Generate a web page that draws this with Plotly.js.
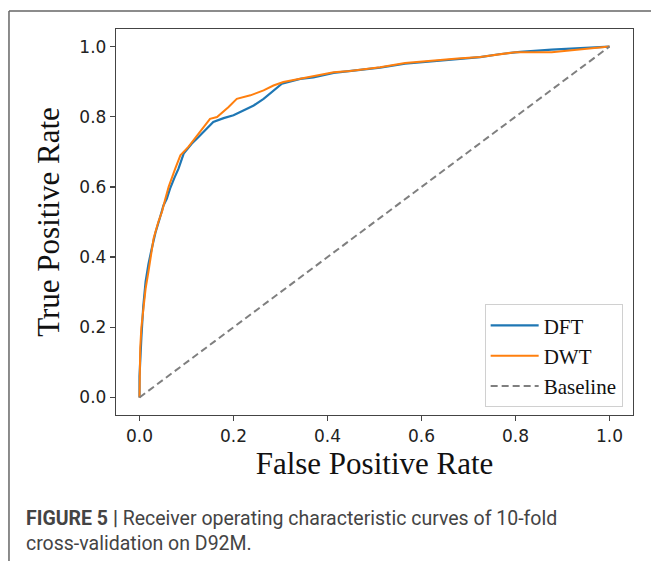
<!DOCTYPE html>
<html>
<head>
<meta charset="utf-8">
<script src="https://cdn.plot.ly/plotly-3.0.1.min.js"></script>
<style>html,body{margin:0;padding:0;background:#fff;}#chart{width:651px;height:561px;}</style>
</head>
<body>
<div id="chart"></div>
<script>
// DFT ROC curve (blue)
const dftFpr = [0, 0.000, 0.004, 0.008, 0.013, 0.019, 0.026, 0.034, 0.043, 0.051, 0.058, 0.065, 0.074, 0.083, 0.094, 0.111, 0.124, 0.136, 0.157, 0.179, 0.200, 0.221, 0.243, 0.264, 0.285, 0.303, 0.342, 0.370, 0.413, 0.450, 0.512, 0.565, 0.619, 0.677, 0.725, 0.765, 0.810, 0.877, 0.941, 1.0];
const dftTpr = [0, 0.060, 0.170, 0.260, 0.330, 0.380, 0.424, 0.470, 0.510, 0.547, 0.566, 0.595, 0.625, 0.652, 0.695, 0.723, 0.740, 0.756, 0.785, 0.796, 0.804, 0.818, 0.832, 0.851, 0.875, 0.894, 0.908, 0.912, 0.925, 0.930, 0.940, 0.951, 0.958, 0.965, 0.970, 0.978, 0.985, 0.991, 0.996, 1.0];
// DWT ROC curve (orange)
const dwtFpr = [0, 0.0015, 0.004, 0.0085, 0.013, 0.019, 0.025, 0.030, 0.040, 0.048, 0.055, 0.062, 0.076, 0.087, 0.104, 0.129, 0.150, 0.165, 0.189, 0.207, 0.236, 0.264, 0.285, 0.306, 0.342, 0.370, 0.413, 0.448, 0.512, 0.565, 0.619, 0.677, 0.725, 0.765, 0.799, 0.877, 0.941, 1.0];
const dwtTpr = [0, 0.140, 0.200, 0.263, 0.310, 0.358, 0.410, 0.453, 0.500, 0.530, 0.566, 0.600, 0.652, 0.690, 0.714, 0.756, 0.794, 0.799, 0.827, 0.851, 0.861, 0.875, 0.889, 0.899, 0.908, 0.917, 0.927, 0.930, 0.941, 0.953, 0.960, 0.966, 0.970, 0.977, 0.984, 0.984, 0.993, 1.0];
// Baseline
const baseX = [0, 1];
const baseY = [0, 1];
const seriesNames = ["DFT", "DWT", "Baseline"];
const tickVals = [0, 0.2, 0.4, 0.6, 0.8, 1.0];
const tickText = ["0.0", "0.2", "0.4", "0.6", "0.8", "1.0"];

const traces = [
  {x: dftFpr, y: dftTpr, type: "scatter", mode: "lines", name: seriesNames[0],
   line: {color: "#1f77b4", width: 2.2}},
  {x: dwtFpr, y: dwtTpr, type: "scatter", mode: "lines", name: seriesNames[1],
   line: {color: "#ff7f0e", width: 2}},
  {x: baseX, y: baseY, type: "scatter", mode: "lines", name: seriesNames[2],
   line: {color: "#7f7f7f", width: 2, dash: "7px,4px"}}
];

const axisCommon = {
  range: [-0.05, 1.05], tickvals: tickVals, ticktext: tickText,
  showgrid: false, zeroline: false, showline: true, mirror: true,
  linecolor: "#444", linewidth: 1.2, ticks: "outside", ticklen: 5, tickwidth: 1.2,
  tickcolor: "#444", tickfont: {family: "DejaVu Sans", size: 17, color: "#222"}
};

const layout = {
  width: 651, height: 561,
  margin: {l: 116, r: 18, t: 29, b: 146},
  paper_bgcolor: "#fff", plot_bgcolor: "#fff",
  showlegend: true,
  xaxis: Object.assign({}, axisCommon, {
    title: {text: "False Positive Rate", font: {family: "Liberation Serif", size: 31, color: "#111"}, standoff: 6}
  }),
  yaxis: Object.assign({}, axisCommon, {
    title: {text: "True Positive Rate", font: {family: "Liberation Serif", size: 31, color: "#111"}, standoff: 10}
  }),
  legend: {
    x: 0.98, xanchor: "right", y: 0.02, yanchor: "bottom",
    bgcolor: "#fff", bordercolor: "#d0d0d0", borderwidth: 1,
    font: {family: "Liberation Serif", size: 21, color: "#111"},
    itemwidth: 48, tracegroupgap: 0
  },
  shapes: [
    {type: "line", xref: "paper", yref: "paper", x0: -0.207, x1: 1.04, y0: 1.0466, y1: 1.0466,
     line: {color: "#666", width: 1.5}},
    {type: "line", xref: "paper", yref: "paper", x0: -0.207, x1: -0.207, y0: 1.0466, y1: -0.4,
     line: {color: "#666", width: 1.5}}
  ],
  annotations: [
    {xref: "paper", yref: "paper", x: -0.178, y: -0.269, xanchor: "left", yanchor: "middle",
     showarrow: false, align: "left",
     text: "<b>FIGURE 5 |</b> Receiver operating characteristic curves of 10-fold",
     font: {family: "Roboto", size: 19.5, color: "#444"}},
    {xref: "paper", yref: "paper", x: -0.178, y: -0.334, xanchor: "left", yanchor: "middle",
     showarrow: false, align: "left",
     text: "cross-validation on D92M.",
     font: {family: "Roboto", size: 19.5, color: "#444"}}
  ]
};

Plotly.newPlot("chart", traces, layout, {staticPlot: true, displayModeBar: false});
</script>
</body>
</html>
